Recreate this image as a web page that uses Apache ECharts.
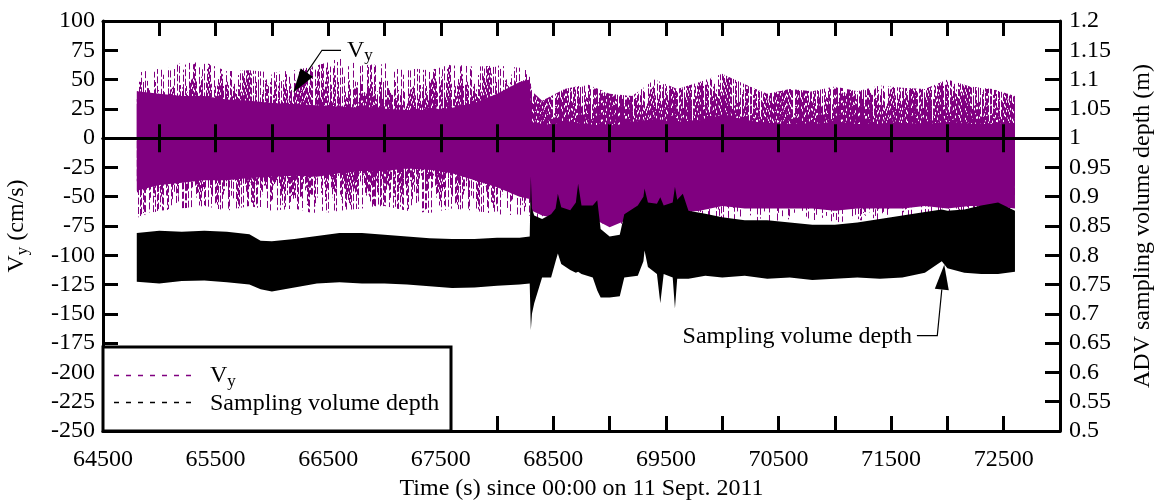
<!DOCTYPE html>
<html><head><meta charset="utf-8">
<script src="https://cdn.jsdelivr.net/npm/echarts@6/dist/echarts.min.js"></script>
<style>html,body{margin:0;padding:0;background:#fff}#c{width:1159px;height:502px}</style>
</head><body><div id="c"></div>
<script>
// ---------------- DATA ----------------
// Vy (cm/s): envelope of the dense core and of the dashed spikes
const vyTime = [64800,65000,65200,65400,65600,65800,66000,66200,66400,66600,66800,67000,67200,67400,67600,67800,68000,68200,68290,68310,68400,68600,68800,69000,69200,69400,69600,69800,70000,70200,70400,70600,70800,71000,71200,71400,71600,71800,72000,72200,72400,72600];
const vySpikeHi = [55,62,64,65,57,58,56,58,62,68,62,64,60,58,63,61,62,60,58,40,32,42,46,38,36,50,42,48,55,46,38,42,40,44,40,45,43,42,50,44,42,36];
const vyCoreHi = [40,38,36,36,33,32,30,29,28,27,26,25,24,24,26,30,38,48,50,14,10,14,12,10,14,16,14,15,20,16,12,12,12,14,12,12,13,12,14,12,12,12];
const vyCoreLo = [-45,-40,-38,-36,-36,-34,-33,-32,-33,-30,-28,-28,-26,-27,-30,-36,-42,-50,-52,-62,-66,-70,-66,-76,-68,-66,-64,-62,-58,-60,-60,-60,-60,-62,-60,-60,-60,-58,-60,-58,-58,-60];
const vySpikeLo = [-68,-62,-60,-58,-62,-58,-62,-60,-65,-62,-60,-58,-62,-64,-60,-62,-65,-66,-66,-72,-76,-78,-80,-88,-78,-75,-75,-70,-68,-72,-74,-72,-70,-72,-70,-70,-72,-68,-70,-72,-70,-70];

// ADV sampling volume depth (m): envelope of the black band
const depthTime = [64800,65000,65200,65400,65600,65800,65900,66000,66200,66400,66600,66800,67000,67200,67400,67600,67800,68000,68200,68290,68300,68310,68330,68400,68480,68520,68540,68570,68650,68700,68720,68750,68850,68890,68920,69000,69090,69130,69250,69300,69310,69340,69420,69450,69480,69560,69580,69600,69650,69700,69850,70000,70200,70400,70600,70800,71000,71200,71400,71600,71800,71950,72000,72150,72300,72450,72600];
const depthHi = [0.838,0.842,0.840,0.842,0.840,0.836,0.825,0.824,0.828,0.833,0.838,0.838,0.835,0.832,0.829,0.828,0.828,0.830,0.830,0.832,0.935,0.880,0.868,0.862,0.870,0.880,0.905,0.882,0.877,0.890,0.922,0.885,0.885,0.894,0.845,0.832,0.835,0.870,0.885,0.900,0.914,0.890,0.888,0.899,0.885,0.890,0.917,0.895,0.905,0.876,0.871,0.865,0.860,0.860,0.856,0.852,0.852,0.856,0.862,0.868,0.874,0.878,0.876,0.878,0.885,0.890,0.876];
const depthLo = [0.755,0.752,0.756,0.757,0.754,0.750,0.742,0.738,0.745,0.752,0.754,0.752,0.752,0.750,0.747,0.744,0.745,0.748,0.750,0.752,0.672,0.700,0.718,0.762,0.762,0.790,0.803,0.785,0.775,0.770,0.772,0.768,0.762,0.740,0.728,0.728,0.730,0.762,0.765,0.790,0.808,0.780,0.768,0.718,0.768,0.762,0.709,0.760,0.760,0.760,0.765,0.762,0.765,0.760,0.762,0.758,0.760,0.762,0.760,0.762,0.770,0.790,0.778,0.770,0.768,0.768,0.772];

// Axes / texts
const xMin = 64500, xMax = 73000, xStep = 500, xLabelStep = 1000;
const yMin = -250, yMax = 100, yStep = 25;
const dMin = 0.5, dMax = 1.2, dStep = 0.05;
const xTitle = 'Time (s) since 00:00 on 11 Sept. 2011';
const yTitle = '{v|V}{s|y}{v| (cm/s)}';
const y2Title = 'ADV sampling volume depth (m)';
const legendVy = '{v|V}{s|y}';
const legendDepth = 'Sampling volume depth';

// annotation anchors (data coordinates)
const vyArrowTip = [66190, 39], vyArrowElbow = [66445, 75], vyArrowEnd = [66614, 75];
const dArrowTip = [71972, 0.784], dArrowElbow = [71910, 0.663], dArrowEnd = [71729, 0.663];

// ---------------- STYLE ----------------
const FONT = '"Liberation Serif", "Times New Roman", serif';
const PURPLE = '#800080';
const FS = 24;
const rich = {
  v: {fontFamily: FONT, fontSize: FS, color: '#000', lineHeight: 26, verticalAlign: 'top'},
  s: {fontFamily: FONT, fontSize: 17, color: '#000', lineHeight: 20, verticalAlign: 'bottom'}
};

// texture for the dashed spikes: vertical dashed strokes running out from the zero line,
// denser close to it (purely decorative fill, clipped to the band)
function texHash(n) { const s = Math.sin(n * 127.1 + 311.7) * 43758.5453; return s - Math.floor(s); }
function spikePattern(color, y0, h) {
  const c = document.createElement('canvas');
  c.width = 240; c.height = h;
  const g = c.getContext('2d');
  g.fillStyle = color;
  const reach = [80, 50];
  for (let col = 0; col < c.width; col++) {
    for (let k = 0; k < 2; k++) {
      const eu = 8 + reach[k] * Math.pow(texHash(col + 5000 * k), 0.8);
      const ed = 8 + reach[k] * Math.pow(texHash(col + 1000 + 5000 * k), 0.8);
      const ph = texHash(col + 2000 + 5000 * k) * 9.5;
      const ph2 = texHash(col + 3000 + 5000 * k) * 9.5;
      for (let y = -ph; y < eu; y += 9.5) {
        const a = Math.max(0, y), b = Math.min(eu, y + 7);
        if (b > a) g.fillRect(col, y0 - b, 1, b - a);
      }
      for (let y = -ph2; y < ed; y += 9.5) {
        const a = Math.max(0, y), b = Math.min(ed, y + 7);
        if (b > a) g.fillRect(col, y0 + a, 1, b - a);
      }
    }
  }
  return c;
}

function band(name, times, lo, hi, yAxisIndex, style, z) {
  const data = times.map((t, i) => [t, lo[i], hi[i]]);
  return {
    type: 'custom', name, yAxisIndex, z, silent: true, clip: true,
    data, encode: {x: 0, y: [1, 2]},
    renderItem: function (params, api) {
      if (params.dataIndex !== 0) return null;
      const top = data.map(d => api.coord([d[0], d[2]]));
      const bot = data.map(d => api.coord([d[0], d[1]])).reverse();
      return {type: 'polygon', shape: {points: top.concat(bot)}, style: style};
    }
  };
}

const lineStyle = {color: '#000', width: 3};
const tickStyle = {color: '#000', width: 3};
const labelStyle = {color: '#000', fontFamily: FONT, fontSize: FS};
const nameStyle = {color: '#000', fontFamily: FONT, fontSize: FS, rich: rich};

function xAx(extra) {
  return Object.assign({
    type: 'value', min: xMin, max: xMax, interval: xStep, z: 10,
    splitLine: {show: false}, axisLabel: {show: false}
  }, extra);
}

const chart = echarts.init(document.getElementById('c'), null, {renderer: 'canvas', width: 1159, height: 502});

chart.setOption({
  animation: false,
  backgroundColor: '#fff',
  grid: {left: 103, right: 99, top: 21, bottom: 71, containLabel: false, outerBoundsMode: 'none'},
  xAxis: [
    xAx({position: 'bottom', axisLine: {onZero: false, lineStyle: lineStyle},
      axisTick: {inside: true, length: 15, lineStyle: tickStyle},
      axisLabel: Object.assign({show: true, margin: 17,
        formatter: v => ((v - xMin) % xLabelStep === 0 ? String(v) : '')}, labelStyle),
      name: xTitle, nameLocation: 'middle', nameGap: 45, nameTextStyle: nameStyle}),
    xAx({position: 'top', axisLine: {onZero: false, lineStyle: lineStyle},
      axisTick: {inside: true, length: 15, lineStyle: tickStyle}}),
    xAx({position: 'bottom', axisLine: {onZero: true, onZeroAxisIndex: 0, lineStyle: lineStyle},
      axisTick: {inside: true, length: 14, lineStyle: tickStyle}}),
    xAx({position: 'bottom', axisLine: {onZero: true, onZeroAxisIndex: 0, lineStyle: lineStyle},
      axisTick: {inside: false, length: 14, lineStyle: tickStyle}})
  ],
  yAxis: [
    {type: 'value', position: 'left', min: yMin, max: yMax, interval: yStep, z: 10,
      axisLine: {onZero: false, lineStyle: lineStyle},
      axisTick: {inside: true, length: 15, lineStyle: tickStyle},
      axisLabel: Object.assign({margin: 8}, labelStyle),
      splitLine: {show: false},
      name: yTitle, nameLocation: 'middle', nameRotate: 90, nameGap: 72, nameTextStyle: nameStyle},
    {type: 'value', position: 'right', min: dMin, max: dMax, interval: dStep, z: 10,
      axisLine: {onZero: false, lineStyle: lineStyle},
      axisTick: {inside: true, length: 15, lineStyle: tickStyle},
      axisLabel: Object.assign({margin: 9, formatter: v => String(+v.toFixed(2))}, labelStyle),
      splitLine: {show: false},
      name: y2Title, nameLocation: 'middle', nameRotate: 90, nameGap: 71, nameTextStyle: nameStyle}
  ]
});

const px = (p, yi) => chart.convertToPixel({xAxisIndex: 0, yAxisIndex: yi}, p);
const zeroY = px([xMin, 0], 0)[1];
const spikeTex = spikePattern(PURPLE, zeroY, chart.getHeight());

chart.setOption({
  series: [
    band('Vy spikes', vyTime, vySpikeLo, vySpikeHi, 0, {fill: {image: spikeTex, repeat: 'repeat'}}, 2),
    band('Vy', vyTime, vyCoreLo, vyCoreHi, 0, {fill: PURPLE}, 3),
    band('Sampling volume depth', depthTime, depthLo, depthHi, 1, {fill: '#000'}, 4)
  ]
});

// --------- legend box and annotations (positions derived from the grid / data) ---------
function arrowParts(tipD, elbowD, endD, yi, L, W) {
  const tip = px(tipD, yi), elbow = px(elbowD, yi), end = px(endD, yi);
  const dx = elbow[0] - tip[0], dy = elbow[1] - tip[1];
  const len = Math.hypot(dx, dy), ux = dx / len, uy = dy / len;
  const base = [tip[0] + ux * L, tip[1] + uy * L];
  const h = W / 2;
  return {
    end: end,
    line: {type: 'polyline', z: 120, shape: {points: [base, elbow, end]}, style: {stroke: '#000', lineWidth: 1.2, fill: null}},
    head: {type: 'polygon', z: 121, shape: {points: [tip, [base[0] - uy * h, base[1] + ux * h], [base[0] + uy * h, base[1] - ux * h]]}, style: {fill: '#000'}}
  };
}
const a1 = arrowParts(vyArrowTip, vyArrowElbow, vyArrowEnd, 0, 24, 15);
const a2 = arrowParts(dArrowTip, dArrowElbow, dArrowEnd, 1, 25, 14);

const g0 = px([xMin, yMin], 0);
const legendW = 348, legendH = 84;
const lx = g0[0], ly = g0[1] - legendH;

chart.setOption({
  graphic: {elements: [
    {type: 'rect', z: 100, shape: {x: lx, y: ly, width: legendW, height: legendH}, style: {fill: '#fff', stroke: '#000', lineWidth: 3}},
    {type: 'line', z: 101, shape: {x1: lx + 11, y1: ly + 28.5, x2: lx + 94, y2: ly + 28.5}, style: {stroke: PURPLE, lineWidth: 1.3, lineDash: [5, 7]}},
    {type: 'line', z: 101, shape: {x1: lx + 11, y1: ly + 55.5, x2: lx + 94, y2: ly + 55.5}, style: {stroke: '#000', lineWidth: 1.3, lineDash: [5, 7]}},
    {type: 'text', z: 101, style: {x: lx + 107, y: ly + 30, text: legendVy, rich: rich, verticalAlign: 'middle', align: 'left'}},
    {type: 'text', z: 101, style: {x: lx + 107, y: ly + 57, text: legendDepth, fontFamily: FONT, fontSize: FS, fill: '#000', verticalAlign: 'middle', align: 'left'}},
    a1.line, a1.head,
    {type: 'text', z: 121, style: {x: a1.end[0] + 6, y: a1.end[1] + 1, text: legendVy, rich: rich, verticalAlign: 'middle', align: 'left'}},
    a2.line, a2.head,
    {type: 'text', z: 121, style: {x: a2.end[0] - 5, y: a2.end[1] + 1, text: legendDepth, fontFamily: FONT, fontSize: FS, fill: '#000', verticalAlign: 'middle', align: 'right'}}
  ]}
});
</script>
</body></html>
